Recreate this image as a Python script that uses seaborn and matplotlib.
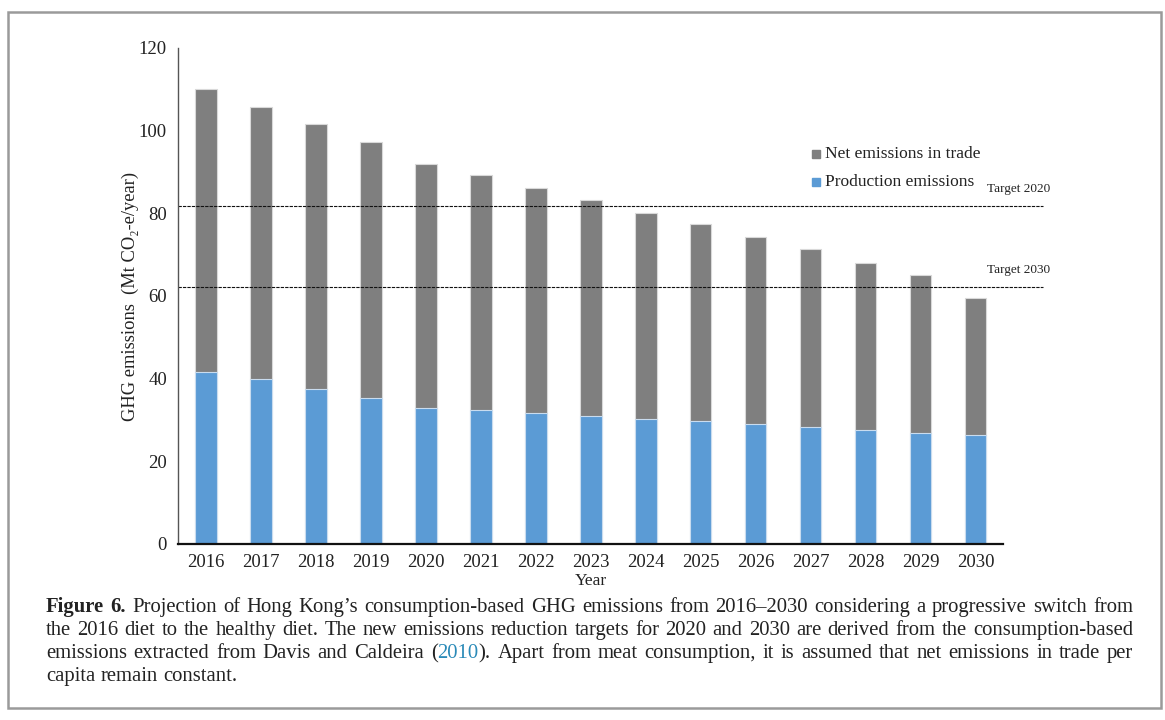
import matplotlib
matplotlib.use("Agg")
import matplotlib.pyplot as plt
import seaborn as sns
import pandas as pd
from matplotlib.patches import Rectangle

years = ["2016", "2017", "2018", "2019", "2020", "2021", "2022", "2023",
         "2024", "2025", "2026", "2027", "2028", "2029", "2030"]
total_emissions = [110.0, 105.7, 101.5, 97.2, 92.0, 89.3, 86.2, 83.2,
                   80.2, 77.3, 74.3, 71.3, 68.1, 65.0, 59.4]
production_emissions = [41.7, 39.8, 37.6, 35.4, 32.8, 32.3, 31.6, 30.9,
                        30.3, 29.7, 29.0, 28.4, 27.5, 26.9, 26.3]
target_values = [81.7, 62.1]
target_labels = ["Target 2020", "Target 2030"]
legend_labels = ["Net emissions in trade", "Production emissions"]

sns.set_style("white")
plt.rcParams["font.family"] = ["Liberation Serif", "DejaVu Serif"]

GRAY = "#7f7f7f"
BLUE = "#5b9bd5"

df = pd.DataFrame({"year": years, "total": total_emissions,
                   "production": production_emissions})

fig = plt.figure(figsize=(11.65, 7.2), dpi=100)
ax = fig.add_axes([178/1165, 1-544/720, (1003-178)/1165, (544-48)/720])

sns.barplot(data=df, x="year", y="total", color=GRAY, width=0.4,
            saturation=1, edgecolor="#d9d9d9", linewidth=0.8, ax=ax)
sns.barplot(data=df, x="year", y="production", color=BLUE, width=0.4,
            saturation=1, edgecolor="#c9dcef", linewidth=0.8, ax=ax)

ax.set_xlim(-0.5, 14.5)
ax.set_ylim(0, 120)
ax.set_yticks([0, 20, 40, 60, 80, 100, 120])
ax.tick_params(axis="both", length=0, labelsize=13.5, colors="#222222")
ax.tick_params(axis="x", pad=7)
ax.tick_params(axis="y", pad=8)
for s in ["top", "right"]:
    ax.spines[s].set_visible(False)
ax.spines["left"].set_color("#555555")
ax.spines["left"].set_linewidth(1.0)
ax.spines["bottom"].set_color("#111111")
ax.spines["bottom"].set_linewidth(1.6)

ax.set_xlabel("Year", fontsize=12.5, labelpad=1.5, color="#222222")
ax.set_ylabel("GHG emissions  (Mt CO\u2082-e/year)", fontsize=13.3,
              labelpad=0, color="#222222")

trans = ax.get_yaxis_transform()
for val, lab in zip(target_values, target_labels):
    ax.plot([0, 1.0485], [val, val], transform=trans, color="#111111",
            linestyle=(0, (3, 1)), linewidth=0.8, clip_on=False)
    ax.text(1.0575, val + 4.2, lab, transform=trans, ha="right",
            va="center", fontsize=9.5, color="#222222")

# legend
leg_y = [154, 182]
for (lab, col, y) in zip(legend_labels, [GRAY, BLUE], leg_y):
    fig.patches.append(Rectangle((812/1165, 1-(y+4)/720), 8/1165, 8/720,
                                 transform=fig.transFigure, color=col))
    fig.text(825/1165, 1-y/720, lab, fontsize=12.5, va="center",
             ha="left", color="#222222")

# frame
fig.patches.append(Rectangle((8/1165, 12/720), 1153/1165, 696/720,
                             transform=fig.transFigure, fill=False,
                             edgecolor="#9a9a9a", linewidth=1.8))

# caption with justified lines
CAP_SIZE = 14.9
renderer = fig.canvas.get_renderer()

def seg_width(txt, weight):
    t = fig.text(0, 0, txt, fontsize=CAP_SIZE, fontweight=weight)
    w = t.get_window_extent(renderer=renderer).width
    t.remove()
    return w

def place_line(words, y, justify=True, x0=46, x1=1133):
    widths = [sum(seg_width(s, w) for s, w, c in word) for word in words]
    if justify and len(words) > 1:
        gap = (x1 - x0 - sum(widths)) / (len(words) - 1)
    else:
        gap = seg_width("a b", "normal") - seg_width("ab", "normal")
    x = x0
    for word, wd in zip(words, widths):
        xx = x
        for s, w, c in word:
            fig.text(xx/1165, 1-y/720, s, fontsize=CAP_SIZE, fontweight=w,
                     color=c, va="baseline", ha="left")
            xx += seg_width(s, w)
        x += wd + gap

def words_of(text, weight="normal", color="#222222"):
    return [[(w, weight, color)] for w in text.split()]

line1 = ([[("Figure", "bold", "#222222")], [("6.", "bold", "#222222")]] +
         words_of("Projection of Hong Kong\u2019s consumption-based GHG emissions "
                  "from 2016\u20132030 considering a progressive switch from"))
line2 = words_of("the 2016 diet to the healthy diet. The new emissions reduction "
                 "targets for 2020 and 2030 are derived from the consumption-based")
line3 = (words_of("emissions extracted from Davis and Caldeira") +
         [[("(", "normal", "#222222"), ("2010", "normal", "#2a8ab8"),
           (").", "normal", "#222222")]] +
         words_of("Apart from meat consumption, it is assumed that net "
                  "emissions in trade per"))
line4 = words_of("capita remain constant.")

place_line(line1, 612)
place_line(line2, 635)
place_line(line3, 658)
place_line(line4, 681, justify=False)

fig.savefig("out.png", dpi=100)
